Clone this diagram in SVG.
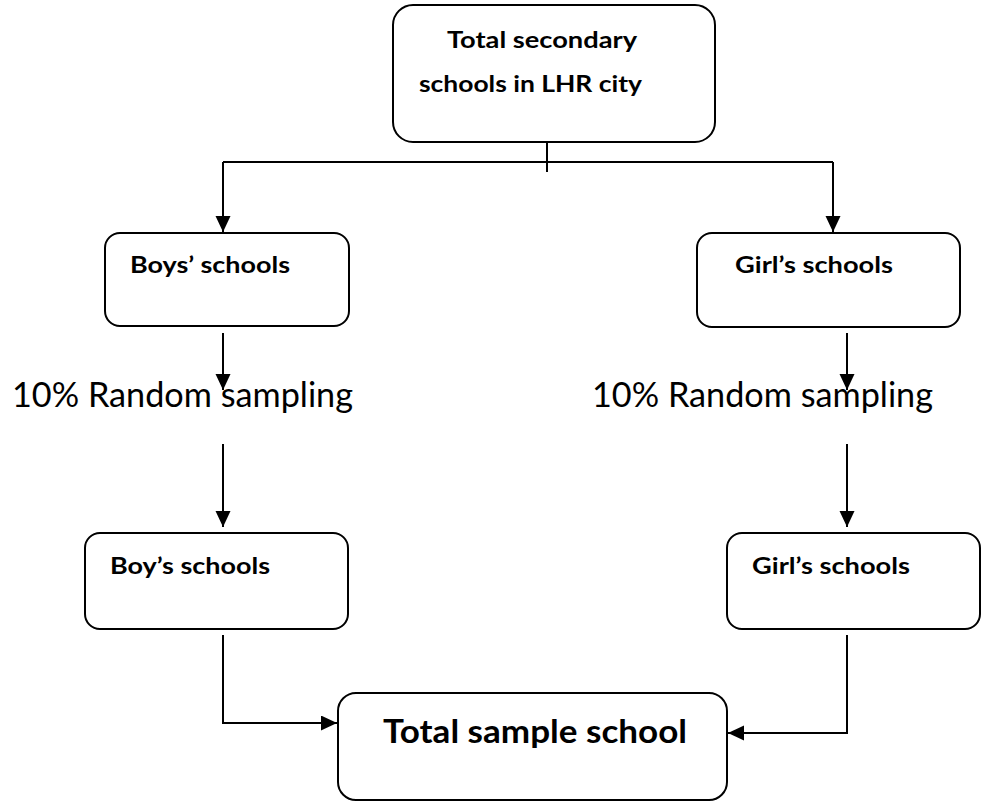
<svg xmlns="http://www.w3.org/2000/svg" width="982" height="803" viewBox="0 0 982 803">
<style>
.box{fill:#fff;stroke:#000;stroke-width:2}
.t{font-family:Lato,"Open Sans","Liberation Sans",sans-serif;font-weight:bold;fill:#000}
.lbl{font-family:Lato,"Open Sans","Liberation Sans",sans-serif;font-weight:normal;fill:#000;font-size:35px}
.c{fill:none;stroke:#000;stroke-width:2}
</style>
<defs>
<marker id="ah" markerWidth="18" markerHeight="18" refX="16" refY="7.5" orient="auto" markerUnits="userSpaceOnUse"><path d="M0,0 L16,7.5 L0,15 z" fill="#000"/></marker>
</defs>
<rect width="982" height="803" fill="#fff"/>
<g id="top">
<rect class="box" x="393" y="5" width="322" height="137" rx="20"/>
<text class="t" x="447" y="48" font-size="23" textLength="190" lengthAdjust="spacingAndGlyphs">Total secondary</text>
<text class="t" x="419" y="92" font-size="23" textLength="223" lengthAdjust="spacingAndGlyphs">schools in LHR city</text>
</g>
<g id="boys1">
<rect class="box" x="105" y="233" width="244" height="93" rx="15"/>
<text class="t" x="130" y="273" font-size="23" textLength="160" lengthAdjust="spacingAndGlyphs">Boys’ schools</text>
</g>
<g id="girls1">
<rect class="box" x="697" y="233" width="263" height="94" rx="15"/>
<text class="t" x="735" y="273" font-size="23" textLength="158" lengthAdjust="spacingAndGlyphs">Girl’s schools</text>
</g>
<g id="boys2">
<rect class="box" x="85" y="533" width="263" height="96" rx="15"/>
<text class="t" x="110" y="574" font-size="23" textLength="160" lengthAdjust="spacingAndGlyphs">Boy’s schools</text>
</g>
<g id="girls2">
<rect class="box" x="727" y="533" width="253" height="96" rx="15"/>
<text class="t" x="752" y="574" font-size="23" textLength="158" lengthAdjust="spacingAndGlyphs">Girl’s schools</text>
</g>
<g id="total">
<rect class="box" x="338" y="693" width="389" height="107" rx="18"/>
<text class="t" x="383" y="743" font-size="33" textLength="304" lengthAdjust="spacingAndGlyphs">Total sample school</text>
</g>
<g id="labels">
<text class="lbl" x="12" y="407" textLength="341" lengthAdjust="spacingAndGlyphs">10% Random sampling</text>
<text class="lbl" x="592" y="407" textLength="341" lengthAdjust="spacingAndGlyphs">10% Random sampling</text>
</g>
<g id="connectors">
<line class="c" x1="547" y1="142" x2="547" y2="172"/>
<line class="c" x1="223" y1="162" x2="833" y2="162"/>
<path class="c" d="M223,162 V232" marker-end="url(#ah)"/>
<path class="c" d="M833,162 V232" marker-end="url(#ah)"/>
<path class="c" d="M223,333 V390" marker-end="url(#ah)"/>
<path class="c" d="M223,444 V527" marker-end="url(#ah)"/>
<path class="c" d="M847,333 V390" marker-end="url(#ah)"/>
<path class="c" d="M847,444 V527" marker-end="url(#ah)"/>
<path class="c" d="M223,635 V723 H337" marker-end="url(#ah)"/>
<path class="c" d="M847,635 V733 H728" marker-end="url(#ah)"/>
</g>
</svg>
